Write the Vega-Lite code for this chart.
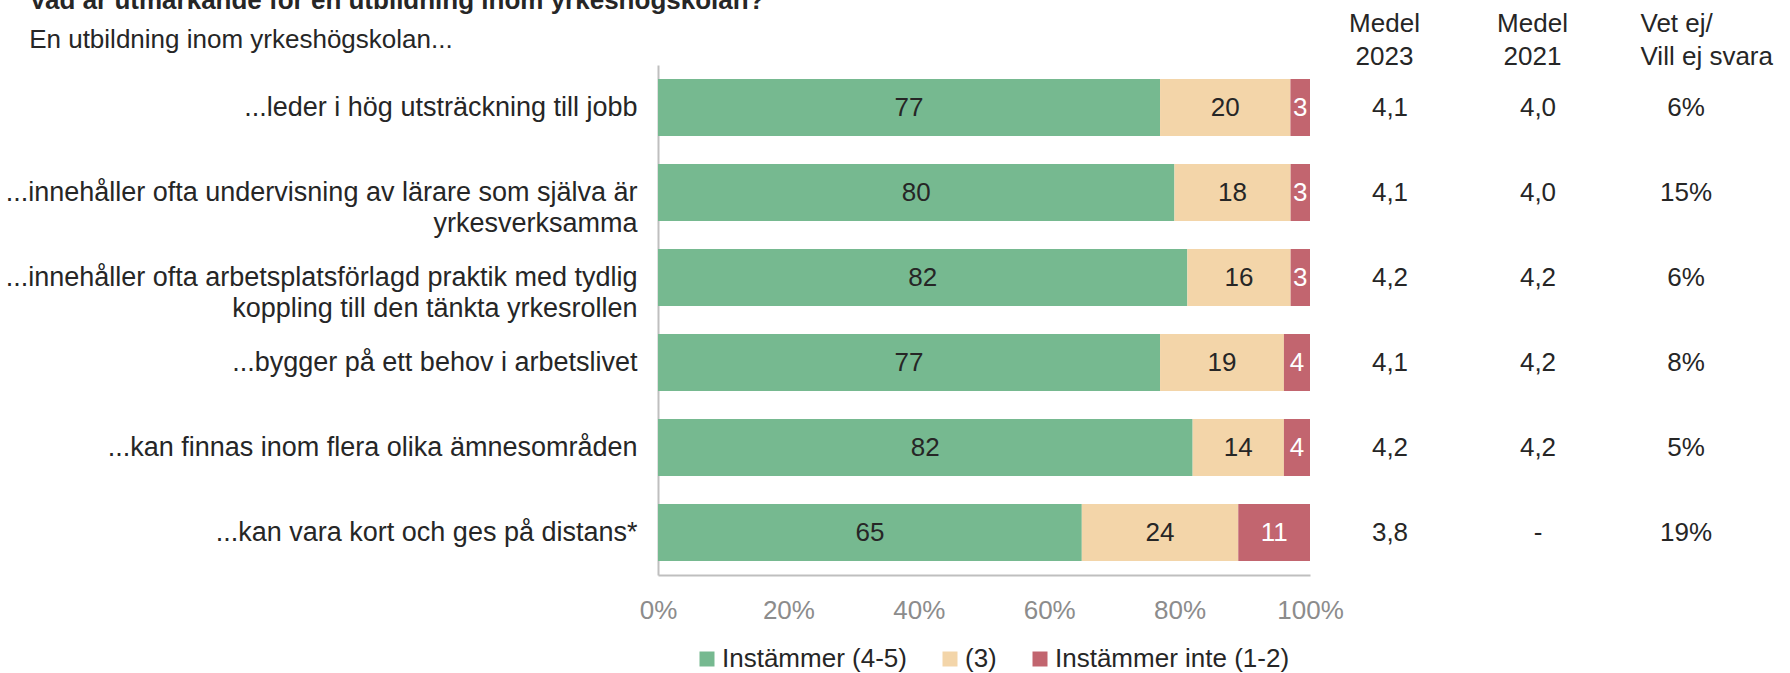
{
  "$schema": "https://vega.github.io/schema/vega-lite/v6.json",
  "padding": {"top": -12, "left": 5, "right": 5, "bottom": 0},
  "background": "white",
  "config": {
    "font": "Liberation Sans",
    "view": {"stroke": null},
    "axis": {"labelFont": "Liberation Sans"},
    "legend": {"labelFont": "Liberation Sans"}
  },
  "datasets": {
    "bars": [
      {"item": "...leder i hög utsträckning till jobb", "cat": "Instämmer (4-5)", "ord": 1, "value": 77},
      {"item": "...leder i hög utsträckning till jobb", "cat": "(3)", "ord": 2, "value": 20},
      {"item": "...leder i hög utsträckning till jobb", "cat": "Instämmer inte (1-2)", "ord": 3, "value": 3},
      {"item": "...innehåller ofta undervisning av lärare som själva är yrkesverksamma", "cat": "Instämmer (4-5)", "ord": 1, "value": 80},
      {"item": "...innehåller ofta undervisning av lärare som själva är yrkesverksamma", "cat": "(3)", "ord": 2, "value": 18},
      {"item": "...innehåller ofta undervisning av lärare som själva är yrkesverksamma", "cat": "Instämmer inte (1-2)", "ord": 3, "value": 3},
      {"item": "...innehåller ofta arbetsplatsförlagd praktik med tydlig koppling till den tänkta yrkesrollen", "cat": "Instämmer (4-5)", "ord": 1, "value": 82},
      {"item": "...innehåller ofta arbetsplatsförlagd praktik med tydlig koppling till den tänkta yrkesrollen", "cat": "(3)", "ord": 2, "value": 16},
      {"item": "...innehåller ofta arbetsplatsförlagd praktik med tydlig koppling till den tänkta yrkesrollen", "cat": "Instämmer inte (1-2)", "ord": 3, "value": 3},
      {"item": "...bygger på ett behov i arbetslivet", "cat": "Instämmer (4-5)", "ord": 1, "value": 77},
      {"item": "...bygger på ett behov i arbetslivet", "cat": "(3)", "ord": 2, "value": 19},
      {"item": "...bygger på ett behov i arbetslivet", "cat": "Instämmer inte (1-2)", "ord": 3, "value": 4},
      {"item": "...kan finnas inom flera olika ämnesområden", "cat": "Instämmer (4-5)", "ord": 1, "value": 82},
      {"item": "...kan finnas inom flera olika ämnesområden", "cat": "(3)", "ord": 2, "value": 14},
      {"item": "...kan finnas inom flera olika ämnesområden", "cat": "Instämmer inte (1-2)", "ord": 3, "value": 4},
      {"item": "...kan vara kort och ges på distans*", "cat": "Instämmer (4-5)", "ord": 1, "value": 65},
      {"item": "...kan vara kort och ges på distans*", "cat": "(3)", "ord": 2, "value": 24},
      {"item": "...kan vara kort och ges på distans*", "cat": "Instämmer inte (1-2)", "ord": 3, "value": 11}
    ],
    "cols": [
      {"item": "...leder i hög utsträckning till jobb", "col": "Medel 2023", "text": "4,1"},
      {"item": "...leder i hög utsträckning till jobb", "col": "Medel 2021", "text": "4,0"},
      {"item": "...leder i hög utsträckning till jobb", "col": "Vet ej/Vill ej svara", "text": "6%"},
      {"item": "...innehåller ofta undervisning av lärare som själva är yrkesverksamma", "col": "Medel 2023", "text": "4,1"},
      {"item": "...innehåller ofta undervisning av lärare som själva är yrkesverksamma", "col": "Medel 2021", "text": "4,0"},
      {"item": "...innehåller ofta undervisning av lärare som själva är yrkesverksamma", "col": "Vet ej/Vill ej svara", "text": "15%"},
      {"item": "...innehåller ofta arbetsplatsförlagd praktik med tydlig koppling till den tänkta yrkesrollen", "col": "Medel 2023", "text": "4,2"},
      {"item": "...innehåller ofta arbetsplatsförlagd praktik med tydlig koppling till den tänkta yrkesrollen", "col": "Medel 2021", "text": "4,2"},
      {"item": "...innehåller ofta arbetsplatsförlagd praktik med tydlig koppling till den tänkta yrkesrollen", "col": "Vet ej/Vill ej svara", "text": "6%"},
      {"item": "...bygger på ett behov i arbetslivet", "col": "Medel 2023", "text": "4,1"},
      {"item": "...bygger på ett behov i arbetslivet", "col": "Medel 2021", "text": "4,2"},
      {"item": "...bygger på ett behov i arbetslivet", "col": "Vet ej/Vill ej svara", "text": "8%"},
      {"item": "...kan finnas inom flera olika ämnesområden", "col": "Medel 2023", "text": "4,2"},
      {"item": "...kan finnas inom flera olika ämnesområden", "col": "Medel 2021", "text": "4,2"},
      {"item": "...kan finnas inom flera olika ämnesområden", "col": "Vet ej/Vill ej svara", "text": "5%"},
      {"item": "...kan vara kort och ges på distans*", "col": "Medel 2023", "text": "3,8"},
      {"item": "...kan vara kort och ges på distans*", "col": "Medel 2021", "text": "-"},
      {"item": "...kan vara kort och ges på distans*", "col": "Vet ej/Vill ej svara", "text": "19%"}
    ]
  },
  "bounds": "flush",
  "spacing": 6,
  "hconcat": [
    {
      "title": {
        "text": "Vad är utmärkande för en utbildning inom yrkeshögskolan?",
        "subtitle": "En utbildning inom yrkeshögskolan...",
        "anchor": "start",
        "fontSize": 26,
        "fontWeight": "bold",
        "color": "#262626",
        "subtitleFontSize": 26,
        "subtitleColor": "#262626",
        "subtitlePadding": 13,
        "offset": 12,
        "dx": 24
      },
      "width": 652,
      "height": 510,
      "data": {"name": "bars"},
      "encoding": {
        "y": {
          "field": "item",
          "type": "nominal",
          "sort": [
            "...leder i hög utsträckning till jobb",
            "...innehåller ofta undervisning av lärare som själva är yrkesverksamma",
            "...innehåller ofta arbetsplatsförlagd praktik med tydlig koppling till den tänkta yrkesrollen",
            "...bygger på ett behov i arbetslivet",
            "...kan finnas inom flera olika ämnesområden",
            "...kan vara kort och ges på distans*"
          ],
          "scale": {"paddingInner": 0.33, "paddingOuter": 0.165},
          "axis": {
            "title": null,
            "domainColor": "#bfbfbf",
            "domainWidth": 2,
            "ticks": false,
            "labelFontSize": 27,
            "labelColor": "#262626",
            "labelPadding": 21,
            "labelLimit": 0,
            "labelLineHeight": 31,
            "labelExpr": "datum.label === '...innehåller ofta undervisning av lärare som själva är yrkesverksamma' ? ['...innehåller ofta undervisning av lärare som själva är', 'yrkesverksamma'] : datum.label === '...innehåller ofta arbetsplatsförlagd praktik med tydlig koppling till den tänkta yrkesrollen' ? ['...innehåller ofta arbetsplatsförlagd praktik med tydlig', 'koppling till den tänkta yrkesrollen'] : datum.label"
          }
        }
      },
      "layer": [
        {
          "mark": {"type": "bar"},
          "encoding": {
            "x": {
              "field": "value",
              "type": "quantitative",
              "stack": "normalize",
              "axis": {
                "title": null,
                "values": [0, 0.2, 0.4, 0.6, 0.8, 1],
                "format": ".0%",
                "grid": false,
                "ticks": false,
                "domainColor": "#bfbfbf",
                "domainWidth": 2,
                "labelFontSize": 26,
                "labelColor": "#8c8c8c",
                "labelPadding": 22,
                "labelFlush": false
              }
            },
            "color": {
              "field": "cat",
              "type": "nominal",
              "scale": {
                "domain": ["Instämmer (4-5)", "(3)", "Instämmer inte (1-2)"],
                "range": ["#76b990", "#f3d5a9", "#c2656f"]
              },
              "legend": {
                "title": null,
                "orient": "none",
                "legendX": 36,
                "legendY": 581,
                "direction": "horizontal",
                "labelFontSize": 26,
                "labelColor": "#262626",
                "labelLimit": 0,
                "symbolType": "square",
                "symbolSize": 225,
                "symbolStrokeWidth": 0,
                "symbolOpacity": 1,
                "labelOffset": 2,
                "columnPadding": 30
              }
            },
            "order": {"field": "ord", "type": "quantitative"}
          }
        },
        {
          "mark": {"type": "text", "fontSize": 26, "baseline": "middle", "align": "center"},
          "encoding": {
            "x": {"field": "value", "type": "quantitative", "stack": "normalize", "bandPosition": 0.5},
            "text": {"field": "value", "type": "quantitative"},
            "order": {"field": "ord", "type": "quantitative"},
            "color": {
              "condition": {"test": "datum.cat === 'Instämmer inte (1-2)'", "value": "white"},
              "value": "#262626"
            }
          }
        }
      ]
    },
    {
      "width": 444,
      "height": 510,
      "data": {"name": "cols"},
      "mark": {"type": "text", "fontSize": 26, "color": "#262626", "baseline": "middle", "align": "center"},
      "encoding": {
        "x": {
          "field": "col",
          "type": "nominal",
          "sort": ["Medel 2023", "Medel 2021", "Vet ej/Vill ej svara"],
          "scale": {"paddingInner": 0, "paddingOuter": 0},
          "axis": {
            "orient": "top",
            "title": null,
            "domain": false,
            "ticks": false,
            "labelAngle": 0,
            "labelFontSize": 26,
            "labelColor": "#262626",
            "labelLineHeight": 33,
            "labelPadding": 29,
            "labelLimit": 0,
            "labelAlign": {"condition": {"test": "datum.value === 'Vet ej/Vill ej svara'", "value": "left"}, "value": "center"},
            "labelOffset": {"condition": {"test": "datum.value === 'Vet ej/Vill ej svara'", "value": -46}, "value": -6},
            "labelExpr": "datum.label === 'Vet ej/Vill ej svara' ? ['Vet ej/', 'Vill ej svara'] : split(datum.label, ' ')"
          }
        },
        "y": {
          "field": "item",
          "type": "nominal",
          "sort": [
            "...leder i hög utsträckning till jobb",
            "...innehåller ofta undervisning av lärare som själva är yrkesverksamma",
            "...innehåller ofta arbetsplatsförlagd praktik med tydlig koppling till den tänkta yrkesrollen",
            "...bygger på ett behov i arbetslivet",
            "...kan finnas inom flera olika ämnesområden",
            "...kan vara kort och ges på distans*"
          ],
          "scale": {"paddingInner": 0.33, "paddingOuter": 0.165},
          "axis": null
        },
        "text": {"field": "text", "type": "nominal"}
      }
    }
  ],
  "resolve": {"scale": {"y": "independent"}}
}
